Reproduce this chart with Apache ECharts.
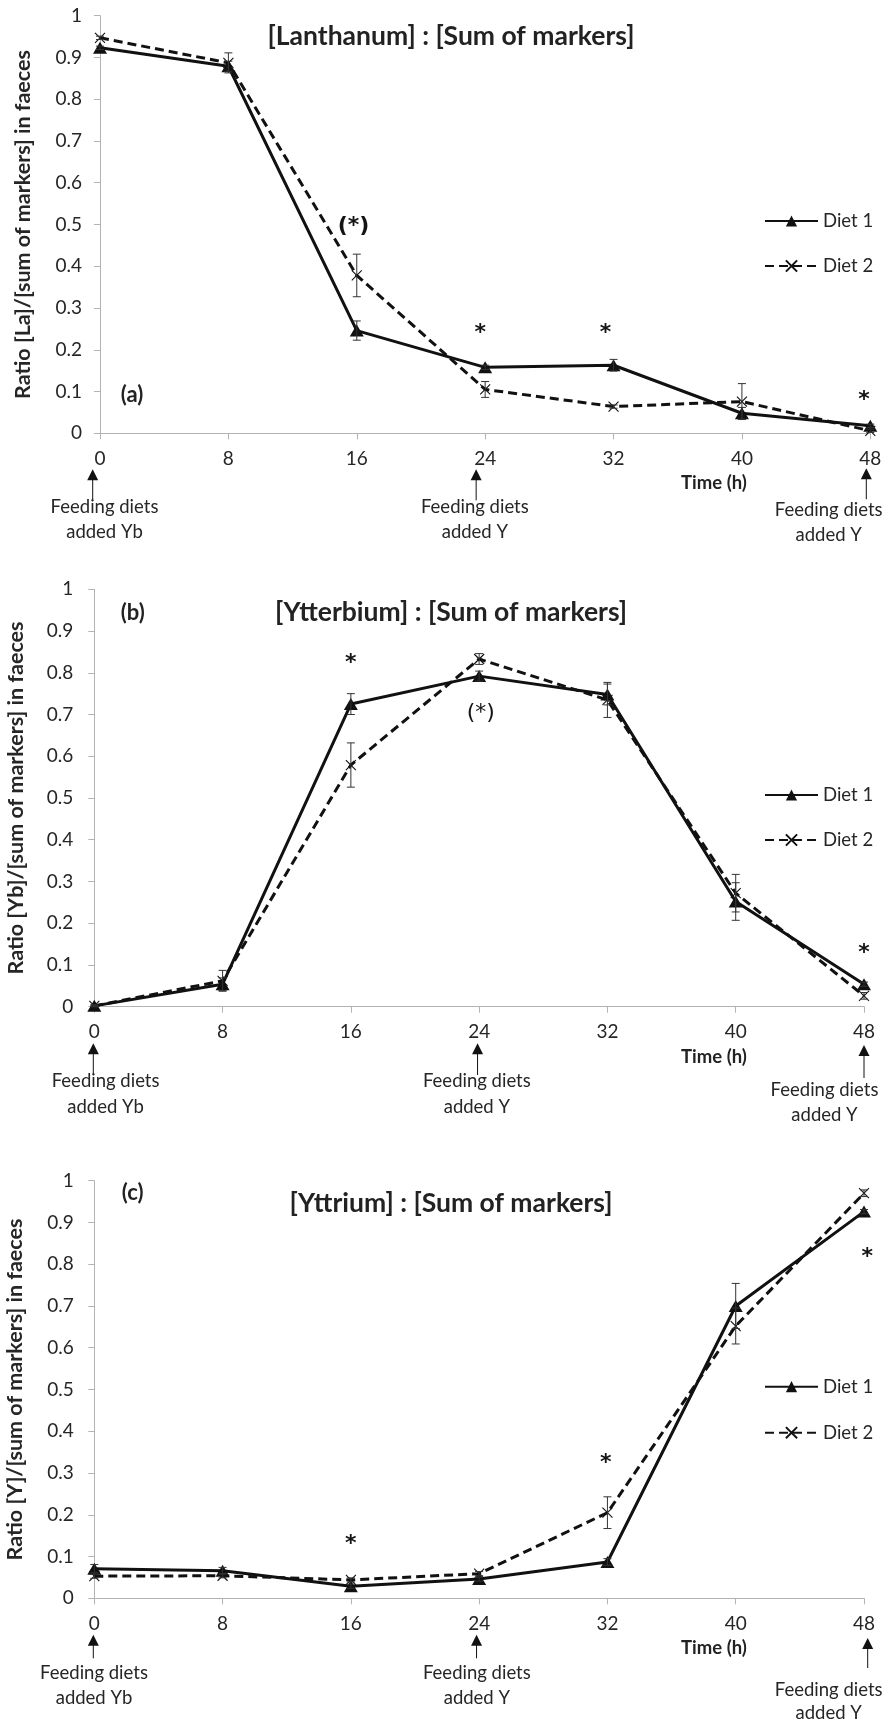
<!DOCTYPE html>
<html><head><meta charset="utf-8">
<script src="https://cdn.jsdelivr.net/npm/echarts@6/dist/echarts.min.js"></script>
<style>html,body{margin:0;padding:0;background:#fff;}#c{width:886px;height:1723px;}</style>
</head><body><div id="c"></div>
<script>
// ---------- data ----------
const hours = [0, 8, 16, 24, 32, 40, 48];
const xTicks = [0, 8, 16, 24, 32, 40, 48];

const laDiet1    = [0.923, 0.879, 0.246, 0.158, 0.163, 0.048, 0.018];
const laDiet1Err = [0.004, 0.012, 0.023, 0.005, 0.014, 0.014, 0.004];
const laDiet2    = [0.947, 0.887, 0.378, 0.105, 0.064, 0.076, 0.006];
const laDiet2Err = [0.004, 0.024, 0.051, 0.019, 0.004, 0.043, 0.004];

const ybDiet1    = [0.002, 0.054, 0.725, 0.792, 0.748, 0.252, 0.054];
const ybDiet1Err = [0.002, 0.015, 0.025, 0.012, 0.025, 0.045, 0.005];
const ybDiet2    = [0.002, 0.062, 0.579, 0.833, 0.735, 0.272, 0.026];
const ybDiet2Err = [0.002, 0.025, 0.053, 0.013, 0.042, 0.045, 0.008];

const yDiet1     = [0.071, 0.066, 0.029, 0.046, 0.087, 0.700, 0.926];
const yDiet1Err  = [0.010, 0.008, 0.005, 0.005, 0.008, 0.054, 0.005];
const yDiet2     = [0.053, 0.054, 0.044, 0.059, 0.205, 0.652, 0.970];
const yDiet2Err  = [0.005, 0.005, 0.005, 0.005, 0.038, 0.043, 0.008];

// significance marks: [hour anchor, value anchor, text]
const laSig = [[15.8, 0.495, '(*)'], [23.7, 0.251, '*'], [31.5, 0.251, '*'], [47.6, 0.092, '*']];
const ybSig = [[16, 0.835, '*'], [24.1, 0.703, '(*)'], [48, 0.14, '*']];
const ySig  = [[16, 0.141, '*'], [31.9, 0.336, '*'], [48.2, 0.828, '*']];

const seriesNames = ['Diet 1', 'Diet 2'];
const titles = ['[Lanthanum] : [Sum of markers]', '[Ytterbium] : [Sum of markers]', '[Yttrium] : [Sum of markers]'];
const yNames = ['Ratio [La]/[sum of markers] in faeces', 'Ratio [Yb]/[sum of markers] in faeces', 'Ratio [Y]/[sum of markers] in faeces'];
const letters = ['(a)', '(b)', '(c)'];
const xName = 'Time (h)';
const feedHours = [0, 24, 48];
const feedTexts = ['Feeding diets\nadded Yb', 'Feeding diets\nadded Y', 'Feeding diets\nadded Y'];

// ---------- layout / style ----------
const FONT = 'Lato, "Open Sans", sans-serif';
const STAR_FONT = '"DejaVu Sans", sans-serif';
const INK = '#111';
const TXT = '#262626';
const AXIS = '#b3b3b3';

const panels = [
  { d1: laDiet1, e1: laDiet1Err, d2: laDiet2, e2: laDiet2Err, sig: laSig, regular: [],
    grid: {left: 100, top: 15.7, width: 770.3, height: 417.6}, nameGap: 66, labelMargin: 18,
    legendTop: 211, legendGap: 25, titleY: 36.7, letterXY: [132, 395], timeY: 483.3,
    arrows: [{dx: -7.3, head: 36, end: 67, tx: 4.5, t1: 74, t2: 98.4},
             {dx: -9, head: 36, end: 67, tx: -10.3, t1: 74, t2: 98.4},
             {dx: -4, head: 35, end: 66, tx: -41.6, t1: 77, t2: 101.7}] },
  { d1: ybDiet1, e1: ybDiet1Err, d2: ybDiet2, e2: ybDiet2Err, sig: ybSig, regular: [1],
    grid: {left: 94.3, top: 589.3, width: 769.7, height: 417.4}, nameGap: 67, labelMargin: 21,
    legendTop: 785, legendGap: 25, titleY: 612.3, letterXY: [132.7, 613.3], timeY: 1056.7,
    arrows: [{dx: -1, head: 36.6, end: 68.3, tx: 11.3, t1: 74, t2: 100},
             {dx: -1.6, head: 36.6, end: 68.3, tx: -2.3, t1: 74, t2: 100},
             {dx: 0, head: 38.3, end: 71.3, tx: -39.5, t1: 83.3, t2: 108.3}] },
  { d1: yDiet1, e1: yDiet1Err, d2: yDiet2, e2: yDiet2Err, sig: ySig, regular: [],
    grid: {left: 94.3, top: 1180.7, width: 769.7, height: 417.6}, nameGap: 68.5, labelMargin: 20.5,
    legendTop: 1376.7, legendGap: 26, titleY: 1203, letterXY: [132.7, 1192.7], timeY: 1648.3,
    arrows: [{dx: -1, head: 36.5, end: 60, tx: -0.3, t1: 75, t2: 99.5},
             {dx: -2.6, head: 36.5, end: 60, tx: -2.3, t1: 75, t2: 99.5},
             {dx: 3.7, head: 39.7, end: 69.7, tx: -35.3, t1: 91.7, t2: 114.7}] }
];

const xMark = 'path://M0,0L10,10M10,0L0,10';

const chart = echarts.init(document.getElementById('c'), null, {renderer: 'canvas'});

const grids = [], xAxes = [], yAxes = [], series = [], legends = [];
panels.forEach((p, i) => {
  grids.push(Object.assign({containLabel: false, outerBoundsMode: 'none'}, p.grid));
  xAxes.push({
    type: 'value', gridIndex: i, min: 0, max: 48, interval: 8,
    axisLine: {show: true, onZero: false, lineStyle: {color: AXIS, width: 1}},
    axisTick: {show: true, length: 6, lineStyle: {color: AXIS}},
    axisLabel: {color: TXT, fontFamily: FONT, fontSize: 19, margin: 16,
                formatter: v => xTicks.indexOf(v) >= 0 ? String(v) : ''},
    splitLine: {show: false}
  });
  yAxes.push({
    type: 'value', gridIndex: i, min: 0, max: 1, interval: 0.1,
    name: yNames[i], nameLocation: 'middle', nameRotate: 90, nameGap: p.nameGap,
    nameTextStyle: {color: TXT, fontFamily: FONT, fontSize: 21.5, fontWeight: 'bold'},
    axisLine: {show: true, lineStyle: {color: AXIS, width: 1}},
    axisTick: {show: true, length: 6, lineStyle: {color: AXIS}},
    axisLabel: {color: TXT, fontFamily: FONT, fontSize: 19, margin: p.labelMargin,
                formatter: v => String(Math.round(v * 10) / 10)},
    splitLine: {show: false}
  });
  series.push({
    name: seriesNames[0], type: 'line', xAxisIndex: i, yAxisIndex: i, clip: false,
    data: hours.map((h, j) => [h, p.d1[j]]),
    symbol: 'triangle', symbolSize: [14, 12], showAllSymbol: true,
    lineStyle: {color: INK, width: 3, type: 'solid'},
    itemStyle: {color: INK}, z: 3, animation: false
  });
  series.push({
    name: seriesNames[1], type: 'line', xAxisIndex: i, yAxisIndex: i, clip: false,
    data: hours.map((h, j) => [h, p.d2[j]]),
    symbol: xMark, symbolSize: 10, showAllSymbol: true,
    lineStyle: {color: INK, width: 3, type: [9, 5]},
    itemStyle: {color: 'rgba(0,0,0,0)', borderColor: INK, borderWidth: 1.1}, z: 3, animation: false
  });
  [[p.d1, p.e1], [p.d2, p.e2]].forEach(([vals, errs]) => {
    series.push({
      type: 'custom', xAxisIndex: i, yAxisIndex: i, silent: true, z: 4, animation: false,
      encode: {x: 0, y: 1},
      data: hours.map((h, j) => [h, vals[j], errs[j]]),
      renderItem: (params, api) => {
        const x = api.value(0), y = api.value(1), e = api.value(2);
        const a = api.coord([x, y + e]), b = api.coord([x, y - e]);
        const w = 4, st = {stroke: '#333', lineWidth: 1};
        return {type: 'group', children: [
          {type: 'line', shape: {x1: a[0], y1: a[1], x2: b[0], y2: b[1]}, style: st},
          {type: 'line', shape: {x1: a[0] - w, y1: a[1], x2: a[0] + w, y2: a[1]}, style: st},
          {type: 'line', shape: {x1: b[0] - w, y1: b[1], x2: b[0] + w, y2: b[1]}, style: st}
        ]};
      }
    });
  });
  // significance marks drawn at data coordinates
  series.push({
    type: 'custom', xAxisIndex: i, yAxisIndex: i, silent: true, z: 6, animation: false,
    encode: {x: 0, y: 1},
    data: p.sig.map((s, k) => [s[0], s[1], k]),
    renderItem: (params, api) => {
      const k = api.value(2);
      const txt = p.sig[k][2];
      const pt = api.coord([api.value(0), api.value(1)]);
      const bold = p.regular.indexOf(k) < 0;
      return {type: 'text', x: pt[0], y: pt[1] + (txt === '*' ? 5 : 0),
        style: {text: txt, fill: '#141414', font: (bold ? 'bold ' : '') + '22px ' + STAR_FONT,
                textAlign: 'center', textVerticalAlign: 'middle'}};
    }
  });
  legends.push({
    data: seriesNames, orient: 'vertical', left: 764, top: p.legendTop, itemGap: p.legendGap,
    itemWidth: 53, itemHeight: 14, selectedMode: false, padding: 0,
    textStyle: {color: TXT, fontFamily: FONT, fontSize: 18.5, lineHeight: 20}
  });
});

chart.setOption({
  animation: false, backgroundColor: '#fff',
  grid: grids, xAxis: xAxes, yAxis: yAxes, legend: legends, series: series
});

// ---------- annotations (titles, arrows, texts) ----------
const graphics = [];
panels.forEach((p, i) => {
  graphics.push({type: 'text', x: 451, y: p.titleY, silent: true,
    style: {text: titles[i], fill: '#222', font: 'bold 26.5px ' + FONT, textAlign: 'center', textVerticalAlign: 'middle'}});
  graphics.push({type: 'text', x: p.letterXY[0], y: p.letterXY[1], silent: true,
    style: {text: letters[i], fill: '#222', font: 'bold 22px ' + FONT, textAlign: 'center', textVerticalAlign: 'middle'}});
  graphics.push({type: 'text', x: 714, y: p.timeY, silent: true,
    style: {text: xName, fill: '#222', font: 'bold 18.5px ' + FONT, textAlign: 'center', textVerticalAlign: 'middle'}});
  feedHours.forEach((h, k) => {
    const base = chart.convertToPixel({gridIndex: i}, [h, 0]);
    const a = p.arrows[k];
    const x = base[0] + a.dx, y0 = base[1];
    graphics.push({type: 'polygon', silent: true,
      shape: {points: [[x - 5.5, y0 + a.head + 11], [x, y0 + a.head], [x + 5.5, y0 + a.head + 11]]},
      style: {fill: '#111'}});
    graphics.push({type: 'line', silent: true,
      shape: {x1: x, y1: y0 + a.head + 10, x2: x, y2: y0 + a.end},
      style: {stroke: '#111', lineWidth: 1}});
    const lines = feedTexts[k].split('\n');
    graphics.push({type: 'text', x: base[0] + a.tx, y: y0 + a.t1, silent: true,
      style: {text: lines[0], fill: TXT, font: '18.5px ' + FONT, textAlign: 'center', textVerticalAlign: 'middle'}});
    graphics.push({type: 'text', x: base[0] + a.tx, y: y0 + a.t2, silent: true,
      style: {text: lines[1], fill: TXT, font: '18.5px ' + FONT, textAlign: 'center', textVerticalAlign: 'middle'}});
  });
});
chart.setOption({graphic: graphics});
</script>
</body></html>
